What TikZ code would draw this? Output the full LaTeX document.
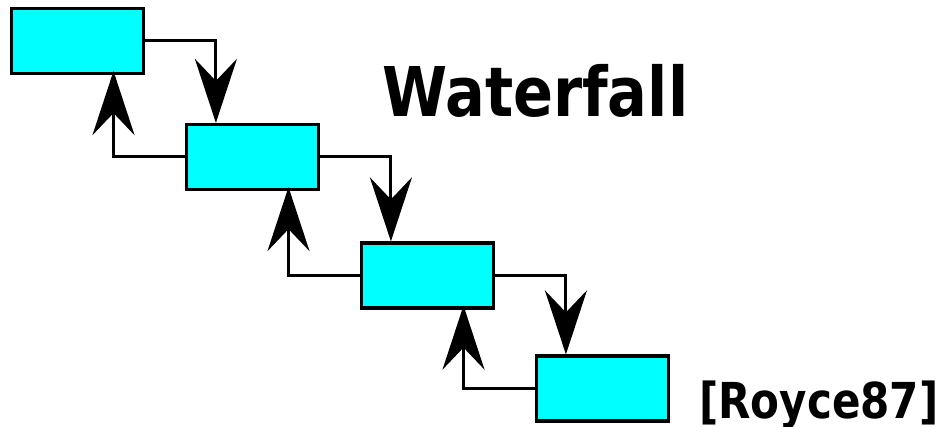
\documentclass[tikz,border=0pt]{standalone}
\usepackage{fontspec}
\usetikzlibrary{arrows.meta}
\newfontfamily\wtitle[FakeStretch=0.86]{DejaVu Sans Bold}
\newfontfamily\wref[FakeStretch=0.85]{DejaVu Sans Bold}
\definecolor{boxcyan}{HTML}{00FFFF}
\tikzset{
  phase/.style={draw=black, fill=boxcyan, line width=3.2pt, rectangle,
    minimum width=132pt, minimum height=65pt, inner sep=0pt},
  flow/.style={line width=3pt, draw=black, line join=miter,
    -{Stealth[length=64pt,width=42pt,inset=22pt]}},
}
\begin{document}
\begin{tikzpicture}[x=1pt,y=-1pt]
\useasboundingbox (0,0) rectangle (949,427);
\node[phase] (b1) at (77.5,41) {};
\node[phase] (b2) at (252.5,157) {};
\node[phase] (b3) at (427.5,275.5) {};
\node[phase] (b4) at (602.5,388.5) {};
\draw[flow] (b1.east) -| ([xshift=31pt]b2.north west);
\draw[flow] (b2.east) -| ([xshift=31pt]b3.north west);
\draw[flow] (b3.east) -| ([xshift=31pt]b4.north west);
\draw[flow] (b2.west) -| ([xshift=36pt,yshift=4pt]b1.south);
\draw[flow] (b3.west) -| ([xshift=36pt,yshift=4pt]b2.south);
\draw[flow] (b4.west) -| ([xshift=36pt,yshift=4pt]b3.south);
\node[anchor=base west, inner sep=0pt, font=\wtitle\fontsize{68.6}{70}\selectfont] (title) at (382,117) {Waterfall};
\node[anchor=base west, inner sep=0pt, font=\wref\fontsize{49.5}{52}\selectfont] (ref) at (699,418) {[Royce87]};
\end{tikzpicture}
\end{document}
